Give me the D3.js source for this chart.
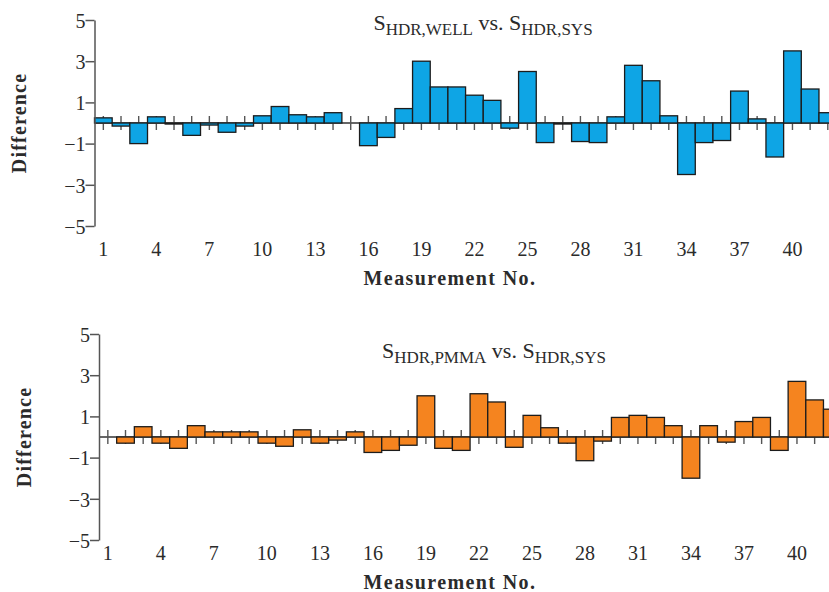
<!DOCTYPE html>
<html>
<head>
<meta charset="utf-8">
<script src="https://cdn.jsdelivr.net/npm/d3@7"></script>
<style>
  html, body { margin: 0; padding: 0; background: #fff; }
  svg { display: block; font-family: "Liberation Serif", "DejaVu Serif", serif; }
</style>
</head>
<body>
<svg id="chart" width="829" height="592"></svg>
<script>
// Measurement numbers shown along the x axis
const measurements = [1, 2, 3, 4, 5, 6, 7, 8, 9, 10, 11, 12, 13, 14, 15, 16, 17, 18, 19, 20, 21,
  22, 23, 24, 25, 26, 27, 28, 29, 30, 31, 32, 33, 34, 35, 36, 37, 38, 39, 40, 41, 42];
const xTickLabels = [1, 4, 7, 10, 13, 16, 19, 22, 25, 28, 31, 34, 37, 40];
const yTickValues = [-5, -3, -1, 1, 3, 5];

// Difference S_HDR,WELL − S_HDR,SYS per measurement
const wellDiff = [0.25, -0.15, -1.0, 0.3, -0.05, -0.6, -0.1, -0.45, -0.15, 0.35, 0.8, 0.4, 0.3, 0.5,
  0, -1.1, -0.7, 0.7, 3.0, 1.75, 1.75, 1.35, 1.1, -0.25, 2.5, -0.95, -0.05, -0.9, -0.95, 0.3,
  2.8, 2.05, 0.35, -2.5, -0.95, -0.85, 1.55, 0.2, -1.65, 3.5, 1.65, 0.5];

// Difference S_HDR,PMMA − S_HDR,SYS per measurement
const pmmaDiff = [0, -0.3, 0.5, -0.3, -0.55, 0.55, 0.25, 0.25, 0.25, -0.3, -0.45, 0.35, -0.3, -0.15,
  0.25, -0.75, -0.65, -0.4, 2.0, -0.55, -0.65, 2.1, 1.7, -0.5, 1.05, 0.45, -0.3, -1.15, -0.2, 0.95,
  1.05, 0.95, 0.55, -2.0, 0.55, -0.25, 0.75, 0.95, -0.65, 2.7, 1.8, 1.35];

const svg = d3.select("#chart");
const W = 829;
const bandStep = 17.67;
const textColor = "#2b2b2b";

function minusFmt(d) { return d < 0 ? "\u2212" + Math.abs(d) : String(d); }

function drawPanel(opts) {
  const { values, fill, left, top, bottom, title, sub1, sub2, titleX, titleY,
          tickLabelY, xTitleY, yTitleX } = opts;
  const g = svg.append("g");

  const x = d3.scaleBand()
    .domain(measurements)
    .range([left, left + bandStep * measurements.length])
    .padding(0);
  const y = d3.scaleLinear().domain([-5, 5]).range([bottom, top]);
  const y0 = y(0);

  // zero line
  g.append("line")
    .attr("x1", left).attr("x2", W)
    .attr("y1", y0).attr("y2", y0)
    .attr("stroke", "#333").attr("stroke-width", 1.5);

  // small ticks across the zero line at each measurement
  g.append("g").selectAll("line")
    .data(measurements)
    .join("line")
    .attr("x1", d => x(d) + x.bandwidth() / 2)
    .attr("x2", d => x(d) + x.bandwidth() / 2)
    .attr("y1", y0 - 7).attr("y2", y0 + 7)
    .attr("stroke", "#555").attr("stroke-width", 1.4);

  // bars
  g.append("g").selectAll("rect")
    .data(measurements.map((m, i) => ({ m, v: values[i] })).filter(d => d.v !== 0))
    .join("rect")
    .attr("x", d => x(d.m))
    .attr("width", x.bandwidth())
    .attr("y", d => Math.min(y(d.v), y0))
    .attr("height", d => Math.abs(y(d.v) - y0))
    .attr("fill", fill)
    .attr("stroke", "#1c1c1c")
    .attr("stroke-width", 1.3);

  // y axis
  const yAxis = g.append("g")
    .attr("transform", `translate(${left},0)`)
    .call(d3.axisLeft(y).tickValues(yTickValues).tickSize(9).tickSizeOuter(0)
      .tickPadding(0).tickFormat(minusFmt));
  yAxis.select(".domain").attr("stroke", "#555").attr("stroke-width", 1.5);
  yAxis.selectAll(".tick line").attr("stroke", "#555").attr("stroke-width", 1.5);
  yAxis.selectAll(".tick text")
    .attr("font-family", "Liberation Serif")
    .attr("font-size", 20)
    .attr("fill", textColor)
    .attr("dy", "0.36em");

  // x tick labels
  g.append("g").selectAll("text")
    .data(xTickLabels)
    .join("text")
    .attr("x", d => x(d) + x.bandwidth() / 2)
    .attr("y", tickLabelY)
    .attr("text-anchor", "middle")
    .attr("font-size", 20)
    .attr("fill", textColor)
    .text(d => d);

  // x axis title
  g.append("text")
    .attr("x", 450).attr("y", xTitleY)
    .attr("text-anchor", "middle")
    .attr("font-size", 20).attr("font-weight", "bold")
    .attr("letter-spacing", 1.4)
    .attr("fill", textColor)
    .text("Measurement No.");

  // y axis title
  g.append("text")
    .attr("transform", `translate(${yTitleX},${(top + bottom) / 2}) rotate(-90)`)
    .attr("text-anchor", "middle")
    .attr("font-size", 20).attr("font-weight", "bold")
    .attr("letter-spacing", 1.2)
    .attr("fill", textColor)
    .text("Difference");

  // panel title with subscripts
  const t = g.append("text")
    .attr("x", titleX).attr("y", titleY)
    .attr("text-anchor", "middle")
    .attr("font-size", 22)
    .attr("fill", textColor);
  t.append("tspan").text(title);
  t.append("tspan").attr("font-size", 17).attr("dy", 5).text(sub1);
  t.append("tspan").attr("dy", -5).text(" vs. " + title);
  t.append("tspan").attr("font-size", 17).attr("dy", 5).text(sub2);
}

drawPanel({
  values: wellDiff, fill: "#0ea5e5",
  left: 94.5, top: 20, bottom: 226,
  title: "S", sub1: "HDR,WELL", sub2: "HDR,SYS",
  titleX: 483, titleY: 30,
  tickLabelY: 256, xTitleY: 285, yTitleX: 26
});

drawPanel({
  values: pmmaDiff, fill: "#f5841f",
  left: 99, top: 334, bottom: 540,
  title: "S", sub1: "HDR,PMMA", sub2: "HDR,SYS",
  titleX: 494, titleY: 358,
  tickLabelY: 560, xTitleY: 589, yTitleX: 31
});
</script>
</body>
</html>
